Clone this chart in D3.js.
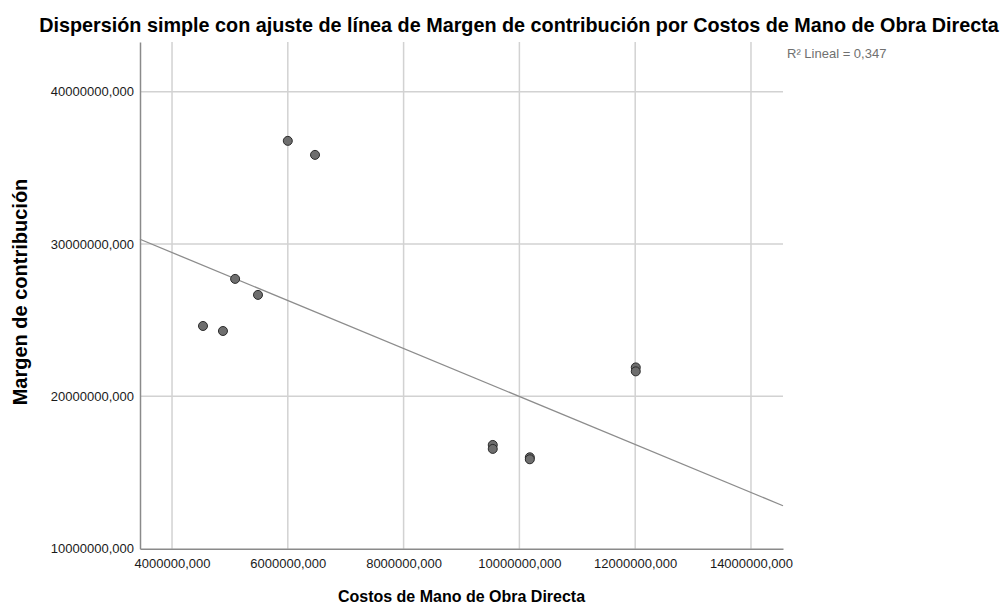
<!DOCTYPE html>
<html>
<head>
<meta charset="utf-8">
<script src="https://cdn.jsdelivr.net/npm/d3@7"></script>
<style>
  body { margin: 0; background: #fff; }
  svg { font-family: "Liberation Sans", Arial, sans-serif; }
</style>
</head>
<body>
<script>
(function (d3) {
  "use strict";

  /***** Data *****/
  // Costos de Mano de Obra Directa (x) / Margen de contribución (y)
  var manoObra = [6000000, 6470000, 5090000, 5485000, 4535000, 4880000,
                  9540000, 9540000, 10180000, 10180000, 12010000, 12010000];
  var margen = [36770000, 35850000, 27710000, 26660000, 24620000, 24290000,
                16810000, 16550000, 16000000, 15870000, 21900000, 21640000];
  var xTicks = [4000000, 6000000, 8000000, 10000000, 12000000, 14000000];
  var yTicks = [10000000, 20000000, 30000000, 40000000];
  // linear fit as shown on the chart
  var fitIntercept = 35740000;
  var fitSlope = -1.575;
  var r2Label = "R\u00B2 Lineal = 0,347";

  /***** Configuration *****/
  var width = 1002, height = 610;
  var plot = { left: 140, right: 783, top: 42, bottom: 548.7 };

  var xScale = d3.scaleLinear().domain([3447000, 14553000]).range([plot.left, plot.right]);
  var yScale = d3.scaleLinear().domain([10000000, 43260000]).range([plot.bottom, plot.top]);

  var locale = d3.formatLocale({ decimal: ",", thousands: ".", grouping: [3], currency: ["", ""] });
  var fmt = locale.format(".3f");

  var svg = d3.select("body").append("svg")
      .attr("width", width)
      .attr("height", height);

  /***** Grid *****/
  svg.append("g").selectAll("line").data(xTicks).join("line")
      .attr("x1", function (d) { return xScale(d); })
      .attr("x2", function (d) { return xScale(d); })
      .attr("y1", plot.top)
      .attr("y2", plot.bottom)
      .attr("stroke", "#d2d2d2")
      .attr("stroke-width", 1.5);

  svg.append("g").selectAll("line").data(yTicks.slice(1)).join("line")
      .attr("x1", plot.left)
      .attr("x2", plot.right)
      .attr("y1", function (d) { return yScale(d); })
      .attr("y2", function (d) { return yScale(d); })
      .attr("stroke", "#d2d2d2")
      .attr("stroke-width", 1.5);

  /***** Axes *****/
  var xAxis = d3.axisBottom(xScale).tickValues(xTicks).tickFormat(fmt).tickSize(0).tickPadding(10);
  var yAxis = d3.axisLeft(yScale).tickValues(yTicks).tickFormat(fmt).tickSize(0).tickPadding(6);

  var gx = svg.append("g").attr("transform", "translate(0," + plot.bottom + ")").call(xAxis);
  var gy = svg.append("g").attr("transform", "translate(" + plot.left + ",0)").call(yAxis);

  [gx, gy].forEach(function (g) {
    g.select(".domain").attr("stroke", "#8a8a8a").attr("stroke-width", 1.5);
    g.selectAll("text").attr("font-size", 13).attr("fill", "#1a1a1a")
        .attr("font-family", "\"Liberation Sans\", Arial, sans-serif");
  });

  /***** Fit line *****/
  var x0 = xScale.domain()[0], x1 = xScale.domain()[1];
  svg.append("line")
      .attr("x1", xScale(x0))
      .attr("y1", yScale(fitIntercept + fitSlope * x0))
      .attr("x2", xScale(x1))
      .attr("y2", yScale(fitIntercept + fitSlope * x1))
      .attr("stroke", "#8c8c8c")
      .attr("stroke-width", 1.3);

  /***** Points *****/
  svg.append("g").selectAll("circle").data(manoObra).join("circle")
      .attr("cx", function (d) { return xScale(d); })
      .attr("cy", function (d, i) { return yScale(margen[i]); })
      .attr("r", 4.5)
      .attr("fill", "#6e6e6e")
      .attr("stroke", "#2a2a2a")
      .attr("stroke-width", 1);

  /***** Texts *****/
  svg.append("text")
      .attr("x", 519)
      .attr("y", 32)
      .attr("text-anchor", "middle")
      .attr("font-size", 19.8)
      .attr("font-weight", "bold")
      .attr("fill", "#000")
      .text("Dispersión simple con ajuste de línea de Margen de contribución por Costos de Mano de Obra Directa");

  svg.append("text")
      .attr("x", 787)
      .attr("y", 58)
      .attr("font-size", 13)
      .attr("fill", "#707070")
      .text(r2Label);

  svg.append("text")
      .attr("x", (plot.left + plot.right) / 2)
      .attr("y", 602)
      .attr("text-anchor", "middle")
      .attr("font-size", 16)
      .attr("font-weight", "bold")
      .text("Costos de Mano de Obra Directa");

  svg.append("text")
      .attr("transform", "translate(27,292) rotate(-90)")
      .attr("text-anchor", "middle")
      .attr("font-size", 20)
      .attr("font-weight", "bold")
      .text("Margen de contribución");

})(d3);
</script>
</body>
</html>
